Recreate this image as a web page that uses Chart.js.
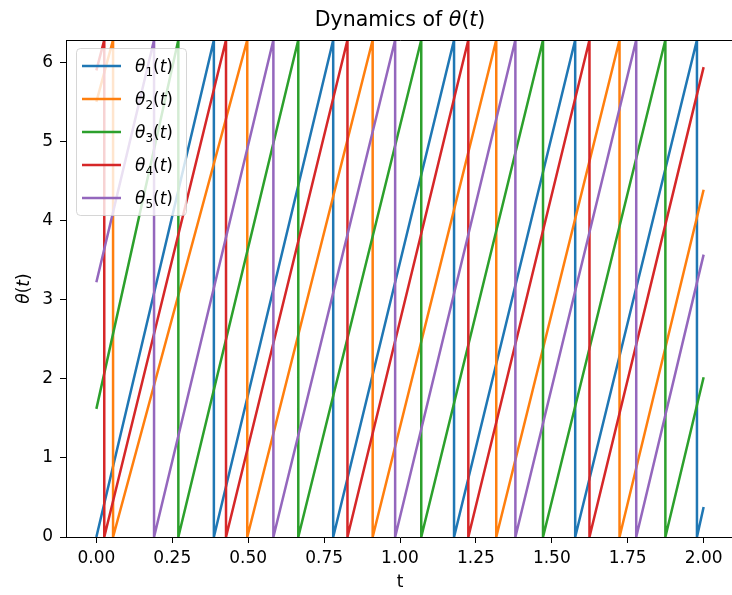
<!DOCTYPE html>
<html>
<head>
<meta charset="utf-8">
<script src="https://cdn.jsdelivr.net/npm/chart.js@4/dist/chart.umd.min.js"></script>
<style>
  html, body { margin: 0; padding: 0; background: #fff; overflow: hidden; }
  #wrap { position: relative; width: 740px; height: 595px; }
</style>
</head>
<body>
<div id="wrap"><canvas id="c" width="740" height="595"></canvas></div>
<script>
const TWO_PI = 2 * Math.PI;
const T_END = 2;

const X_TICKS = [0, 0.25, 0.5, 0.75, 1, 1.25, 1.5, 1.75, 2];
const Y_TICKS = [0, 1, 2, 3, 4, 5, 6];

const SUBS   = ['1', '2', '3', '4', '5'];
const COLORS = ['#1f77b4', '#ff7f0e', '#2ca02c', '#d62728', '#9467bd'];

// phase at t=0 and t=2, and the times where each phase wraps from 2π back to 0
const START = [0, 5.5, 1.62, 5.9, 3.22];
const END   = [0.38, 4.39, 2.02, 5.94, 3.57];
const WRAP_1 = [0.387, 0.780, 1.178, 1.577, 1.978];
const WRAP_2 = [0.055, 0.497, 0.910, 1.317, 1.723];
const WRAP_3 = [0.270, 0.665, 1.070, 1.471, 1.874];
const WRAP_4 = [0.026, 0.427, 0.827, 1.225, 1.624];
const WRAP_5 = [0.190, 0.583, 0.984, 1.380, 1.778];
const WRAPS = [WRAP_1, WRAP_2, WRAP_3, WRAP_4, WRAP_5];

const FONT = "'DejaVu Sans', sans-serif";
const TXT = 17;

function sawtooth(start, wraps, end) {
  const pts = [{ x: 0, y: start }];
  wraps.forEach(w => { pts.push({ x: w, y: TWO_PI }); pts.push({ x: w, y: 0 }); });
  pts.push({ x: T_END, y: end });
  return pts;
}

function thetaParts(size, sub) {
  const parts = [{ s: 'θ', f: `italic ${size}px ${FONT}`, dy: 0 }];
  if (sub) parts.push({ s: sub, f: `${Math.round(size * 0.7)}px ${FONT}`, dy: size * 0.26 });
  parts.push({ s: '(', f: `${size}px ${FONT}`, dy: 0 });
  parts.push({ s: 't', f: `italic ${size}px ${FONT}`, dy: 0 });
  parts.push({ s: ')', f: `${size}px ${FONT}`, dy: 0 });
  return parts;
}

// draws e.g. θ₁(t) with italic θ / t and a small subscript
function drawTheta(ctx, x, y, size, sub) {
  let cx = x;
  thetaParts(size, sub).forEach(p => {
    ctx.font = p.f;
    ctx.fillText(p.s, cx, y + p.dy);
    cx += ctx.measureText(p.s).width;
  });
  return cx - x;
}

function measureTheta(ctx, size, sub) {
  let w = 0;
  thetaParts(size, sub).forEach(p => { ctx.font = p.f; w += ctx.measureText(p.s).width; });
  return w;
}

const decor = {
  id: 'decor',
  afterDraw(chart) {
    const { ctx, chartArea: a } = chart;
    ctx.save();
    ctx.fillStyle = '#000';
    ctx.textBaseline = 'alphabetic';

    // top + right spines (right one lands just past the window edge)
    ctx.strokeStyle = '#000';
    ctx.lineWidth = 1;
    ctx.beginPath();
    ctx.moveTo(a.left, Math.round(a.top) + 0.5);
    ctx.lineTo(Math.round(a.right) + 0.5, Math.round(a.top) + 0.5);
    ctx.lineTo(Math.round(a.right) + 0.5, a.bottom);
    ctx.stroke();

    // title
    const cx = (a.left + a.right) / 2;
    const head = 'Dynamics of ';
    ctx.font = `20.5px ${FONT}`;
    const wHead = ctx.measureText(head).width;
    const total = wHead + measureTheta(ctx, 20.5, null);
    const tx = cx - total / 2;
    ctx.font = `20.5px ${FONT}`;
    ctx.fillText(head, tx, 26);
    drawTheta(ctx, tx + wHead, 26, 20.5, null);

    // x label
    ctx.font = `${TXT}px ${FONT}`;
    ctx.textAlign = 'center';
    ctx.fillText('t', cx, 587);
    ctx.textAlign = 'left';

    // y label
    ctx.save();
    ctx.translate(29, (a.top + a.bottom) / 2);
    ctx.rotate(-Math.PI / 2);
    const wy = measureTheta(ctx, TXT, null);
    drawTheta(ctx, -wy / 2, 0, TXT, null);
    ctx.restore();

    // legend
    const bx = 76.5, by = 48.5, bw = 110, bh = 167;
    ctx.beginPath();
    ctx.roundRect(bx, by, bw, bh, 4);
    ctx.fillStyle = 'rgba(255,255,255,0.8)';
    ctx.fill();
    ctx.strokeStyle = 'rgba(204,204,204,0.8)';
    ctx.stroke();
    SUBS.forEach((s, i) => {
      const yy = 66 + i * 33;
      ctx.strokeStyle = COLORS[i];
      ctx.lineWidth = 2.5;
      ctx.beginPath();
      ctx.moveTo(82, yy);
      ctx.lineTo(121, yy);
      ctx.stroke();
      ctx.fillStyle = '#000';
      drawTheta(ctx, 135, yy + 6, TXT, s);
    });
    ctx.restore();
  }
};

const datasets = WRAPS.map((w, i) => ({
  label: 'θ' + SUBS[i] + '(t)',
  data: sawtooth(START[i], w, END[i]),
  borderColor: COLORS[i],
  backgroundColor: COLORS[i],
  borderWidth: 2.5,
  pointRadius: 0,
  tension: 0,
  fill: false,
  order: WRAPS.length - 1 - i,
}));

new Chart(document.getElementById('c'), {
  type: 'line',
  data: { datasets },
  options: {
    responsive: false,
    animation: false,
    devicePixelRatio: 1,
    layout: { padding: { top: 40, right: 6, left: 0, bottom: 0 } },
    plugins: { legend: { display: false }, tooltip: { enabled: false }, title: { display: false } },
    scales: {
      x: {
        type: 'linear', min: -0.1, max: 2.1,
        afterBuildTicks: s => { s.ticks = X_TICKS.map(v => ({ value: v })); },
        afterFit: s => { s.height = 58; },
        ticks: { callback: v => v.toFixed(2), font: { family: FONT, size: TXT }, color: '#000', padding: 5, maxRotation: 0, autoSkip: false },
        grid: { drawOnChartArea: false, tickLength: 6, color: '#000' },
        border: { color: '#000', width: 1 },
      },
      y: {
        type: 'linear', min: 0, max: TWO_PI,
        afterBuildTicks: s => { s.ticks = Y_TICKS.map(v => ({ value: v })); },
        afterFit: s => { s.width = 66; },
        ticks: { callback: v => String(v), font: { family: FONT, size: TXT }, color: '#000', padding: 7, autoSkip: false },
        grid: { drawOnChartArea: false, tickLength: 6, color: '#000' },
        border: { color: '#000', width: 1 },
      },
    },
  },
  plugins: [decor],
});
</script>
</body>
</html>
